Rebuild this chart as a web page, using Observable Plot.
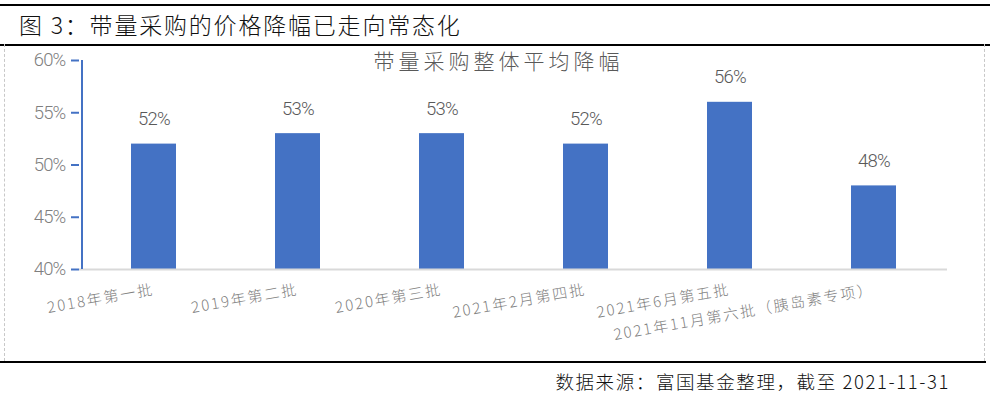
<!DOCTYPE html>
<html><head><meta charset="utf-8">
<script src="https://cdn.jsdelivr.net/npm/d3@7"></script>
<script src="https://cdn.jsdelivr.net/npm/@observablehq/plot@0.6"></script>
<style>
html,body{margin:0;padding:0;background:#fff;}
#wrap{position:relative;width:990px;height:393px;overflow:hidden;font-family:"Noto Sans CJK SC",sans-serif;}
#title{position:absolute;left:0;top:4px;width:990px;height:38px;border-top:2px solid #000;border-bottom:2px solid #000;box-sizing:content-box;}
#title span{position:absolute;left:19px;top:3px;font-size:23px;letter-spacing:1.8px;color:#111;line-height:30px;font-weight:300;}
#frame{position:absolute;left:4px;top:44px;width:979px;height:317px;border-left:1px dashed #c8c8c8;border-right:1px dashed #c8c8c8;}
#bottomline{position:absolute;left:0;top:361px;width:986px;height:0;border-top:2px solid #000;}
#chart{position:absolute;left:0;top:43px;}
#source{position:absolute;right:40px;top:368px;font-size:18.5px;letter-spacing:1.6px;color:#111;line-height:26px;font-weight:300;}
</style></head>
<body><div id="wrap">
<div id="title"><span>图 3：带量采购的价格降幅已走向常态化</span></div>
<div id="frame"></div>
<div id="chart"></div>
<div id="bottomline"></div>
<div id="source">数据来源：富国基金整理，截至 2021-11-31</div>
</div>
<script>
const categories = ["2018年第一批","2019年第二批","2020年第三批","2021年2月第四批","2021年6月第五批","2021年11月第六批（胰岛素专项）"];
const values = [52, 53, 53, 52, 56, 48];
const labels = ["52%","53%","53%","52%","56%","48%"];
const yTicks = [40, 45, 50, 55, 60];
const chartTitle = "带量采购整体平均降幅";

const data = categories.map((c, i) => ({name: c, value: values[i], label: labels[i]}));
const numFont = "Roboto,'Liberation Sans',sans-serif";
const cjkFont = "'Noto Sans CJK SC',sans-serif";
const blue = "#4472C4";

function build(axisDx) {
  return Plot.plot({
    width: 990,
    height: 319,
    marginLeft: 79,
    marginRight: 43,
    marginTop: 17,
    marginBottom: 93,
    style: {background: "transparent", overflow: "visible"},
    x: {domain: categories, paddingInner: 0.69, paddingOuter: 0.345, label: null},
    y: {domain: [40, 60], label: null},
    marks: [
      Plot.barY(data, {x: "name", y1: 40, y2: "value", fill: blue}),
      Plot.ruleY([40], {stroke: "#d9d9d9", strokeWidth: 2}),
      Plot.ruleX(data.slice(0, 1), {x: "name", y1: 40, y2: 60, dx: axisDx, stroke: blue, strokeWidth: 2}),
      Plot.axisY({ticks: yTicks, tickSize: 8, tickPadding: 6, stroke: blue, strokeWidth: 2,
        tickFormat: d => d + "%", fill: "#7f7f7f", fontSize: 18.5, fontWeight: 300, fontFamily: numFont, label: null}),
      Plot.axisX({tickSize: 0, tickPadding: 20, tickRotate: -10, fill: "#7f7f7f", fontSize: 15, fontWeight: 300,
        fontFamily: cjkFont, label: null}),
      Plot.text(data, {x: "name", y: "value", text: "label", dy: -25, fill: "#595959", fontSize: 18.5, fontWeight: 300, fontFamily: numFont}),
      Plot.text([chartTitle], {frameAnchor: "top", dx: -15, dy: 2, fill: "#595959", fontSize: 21, fontWeight: 300,
        fontFamily: cjkFont, lineAnchor: "middle"})
    ]
  });
}
// first pass to read the band step from the library's own x scale
const probe = build(0);
const step = probe.scale("x").step;
const plot = build(-step / 2);
plot.querySelectorAll("g[aria-label='x-axis tick label'] text").forEach(t => t.style.letterSpacing = "2px");
plot.querySelectorAll("g[aria-label='y-axis tick label'] text, g[aria-label='text'] text").forEach(t => t.style.letterSpacing = "-0.8px");
const titleNode = Array.from(plot.querySelectorAll("text")).find(t => t.textContent === chartTitle);
if (titleNode) titleNode.style.letterSpacing = "4px";
document.getElementById("chart").appendChild(plot);
</script>
</body></html>
